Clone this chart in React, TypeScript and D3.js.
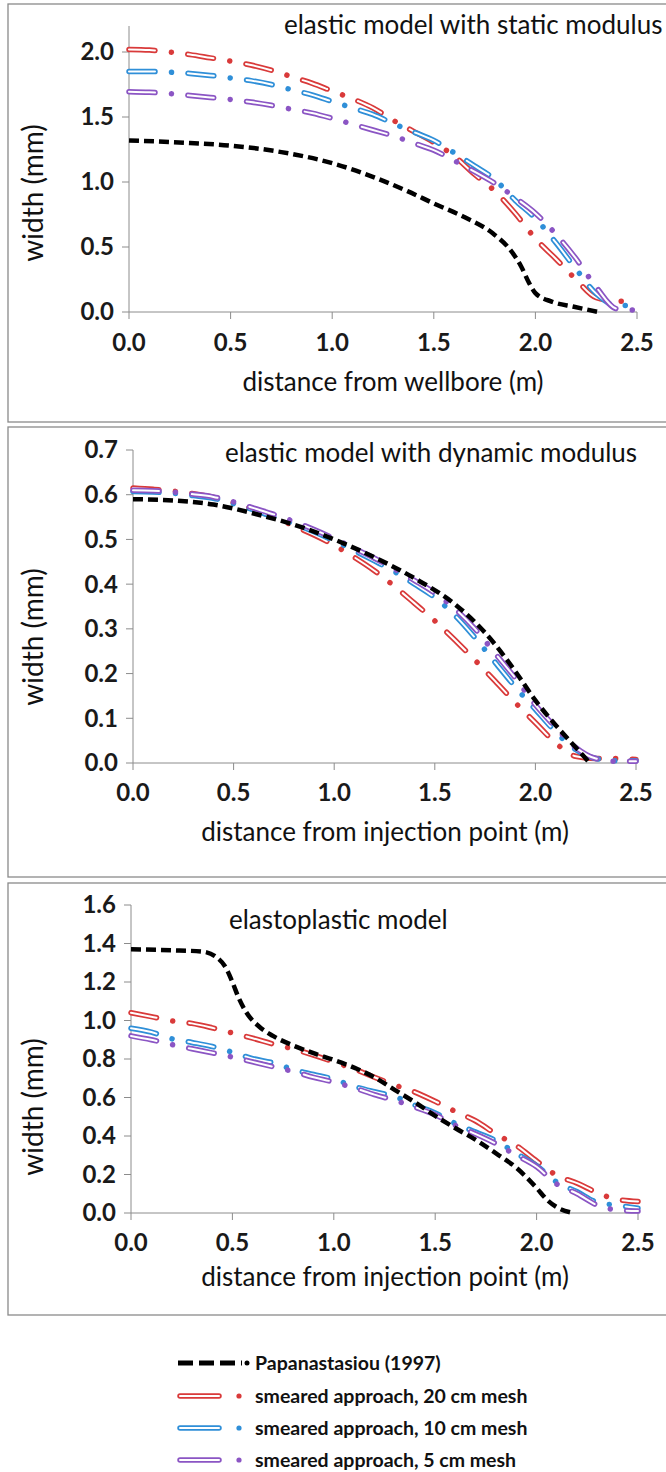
import React from 'react';
import * as d3 from 'd3';

// ---------- data ----------
const seriesNames = [
  'Papanastasiou (1997)',
  'smeared approach, 20 cm mesh',
  'smeared approach, 10 cm mesh',
  'smeared approach, 5 cm mesh',
];
const seriesColors = ['#000000', '#d93a3a', '#2f8fd8', '#8b55c4'];

const panelTitles = [
  'elastic model with static modulus',
  'elastic model with dynamic modulus',
  'elastoplastic model',
];
const xTitles = [
  'distance from wellbore (m)',
  'distance from injection point (m)',
  'distance from injection point (m)',
];
const yTitle = 'width (mm)';

const xTicks = [0, 0.5, 1.0, 1.5, 2.0, 2.5];
const yTicks1 = [0, 0.5, 1.0, 1.5, 2.0];
const yTicks2 = [0, 0.1, 0.2, 0.3, 0.4, 0.5, 0.6, 0.7];
const yTicks3 = [0, 0.2, 0.4, 0.6, 0.8, 1.0, 1.2, 1.4, 1.6];

// mesh positions (m) for the smeared-approach series
const xMesh = [0, 0.1, 0.2, 0.3, 0.4, 0.5, 0.6, 0.7, 0.8, 0.9, 1.0, 1.1, 1.2,
  1.3, 1.4, 1.5, 1.6, 1.7, 1.8, 1.9, 2.0, 2.1, 2.2, 2.3, 2.4, 2.5];

// panel 1 : elastic, static modulus
const papaX1 = [0, 0.3, 0.5, 0.75, 1.0, 1.2, 1.37, 1.5, 1.65, 1.79, 1.87, 1.93, 1.97, 2.0, 2.08, 2.19, 2.31];
const papaY1 = [1.32, 1.30, 1.28, 1.23, 1.145, 1.04, 0.93, 0.835, 0.73, 0.605, 0.49, 0.35, 0.22, 0.145, 0.08, 0.04, 0.0];
const mesh20_1 = [2.02, 2.015, 2.0, 1.98, 1.955, 1.93, 1.9, 1.86, 1.81, 1.76, 1.7, 1.64, 1.57, 1.475, 1.39, 1.305, 1.2, 1.06, 0.93, 0.76, 0.565, 0.41, 0.25, 0.11, 0.085, 0.08];
const mesh10_1 = [1.85, 1.85, 1.845, 1.835, 1.82, 1.8, 1.78, 1.75, 1.71, 1.67, 1.62, 1.57, 1.52, 1.45, 1.385, 1.32, 1.225, 1.125, 1.02, 0.86, 0.72, 0.535, 0.33, 0.14, 0.05, 0.05];
const mesh5_1 = [1.695, 1.69, 1.68, 1.665, 1.65, 1.635, 1.615, 1.59, 1.56, 1.53, 1.49, 1.445, 1.4, 1.355, 1.3, 1.245, 1.165, 1.08, 0.99, 0.88, 0.76, 0.6, 0.41, 0.19, 0.025, 0.015];

// panel 2 : elastic, dynamic modulus
const papaX2 = [0, 0.2, 0.4, 0.6, 0.8, 1.0, 1.2, 1.4, 1.6, 1.7, 1.8, 1.9, 2.0, 2.1, 2.2, 2.27];
const papaY2 = [0.59, 0.587, 0.578, 0.558, 0.533, 0.5, 0.46, 0.413, 0.355, 0.315, 0.265, 0.205, 0.14, 0.085, 0.035, 0.0];
const mesh20_2 = [0.615, 0.612, 0.608, 0.602, 0.594, 0.582, 0.567, 0.55, 0.53, 0.51, 0.487, 0.46, 0.43, 0.395, 0.357, 0.318, 0.275, 0.23, 0.183, 0.135, 0.09, 0.045, 0.015, 0.01, 0.01, 0.008];
const mesh10_2 = [0.607, 0.606, 0.603, 0.598, 0.592, 0.58, 0.566, 0.55, 0.535, 0.517, 0.497, 0.475, 0.452, 0.428, 0.4, 0.37, 0.33, 0.28, 0.225, 0.17, 0.12, 0.07, 0.03, 0.01, 0.005, 0.005];
const mesh5_2 = [0.61, 0.609, 0.606, 0.601, 0.595, 0.584, 0.57, 0.556, 0.54, 0.522, 0.502, 0.48, 0.458, 0.434, 0.408, 0.38, 0.345, 0.3, 0.245, 0.19, 0.13, 0.08, 0.035, 0.01, 0.004, 0.004];

// panel 3 : elastoplastic
const papaX3 = [0, 0.2, 0.35, 0.42, 0.47, 0.5, 0.53, 0.57, 0.63, 0.7, 0.8, 0.9, 1.0, 1.1, 1.2, 1.3, 1.4, 1.5, 1.6, 1.7, 1.8, 1.9, 2.0, 2.05, 2.1, 2.18];
const papaY3 = [1.37, 1.365, 1.358, 1.33, 1.27, 1.2, 1.12, 1.04, 0.97, 0.92, 0.87, 0.83, 0.795, 0.755, 0.705, 0.64, 0.575, 0.505, 0.44, 0.38, 0.31, 0.235, 0.13, 0.07, 0.03, 0.0];
const mesh20_3 = [1.04, 1.02, 0.998, 0.985, 0.962, 0.935, 0.908, 0.878, 0.852, 0.82, 0.785, 0.748, 0.705, 0.665, 0.628, 0.58, 0.527, 0.478, 0.41, 0.35, 0.27, 0.195, 0.155, 0.105, 0.07, 0.06];
const mesh10_3 = [0.96, 0.94, 0.905, 0.886, 0.865, 0.835, 0.802, 0.78, 0.745, 0.72, 0.695, 0.658, 0.63, 0.605, 0.56, 0.52, 0.465, 0.42, 0.375, 0.31, 0.245, 0.16, 0.11, 0.055, 0.04, 0.025];
const mesh5_3 = [0.92, 0.9, 0.875, 0.853, 0.832, 0.81, 0.785, 0.76, 0.735, 0.705, 0.68, 0.65, 0.615, 0.585, 0.55, 0.51, 0.455, 0.41, 0.36, 0.3, 0.24, 0.15, 0.1, 0.04, 0.015, 0.01];

// ---------- layout ----------
const FONT = 'Lato, "Open Sans", sans-serif';
const TICK_FS = 24;
const TITLE_FS = 26;
const AXT_FS = 26;
const YT_FS = 28;
const LEG_FS = 19.5;

type PanelCfg = {
  frameTop: number; frameBottom: number;
  x0: number; x1: number; yBottom: number; yTop: number;
  yMax: number; yTicks: number[];
  titleX: number; titleY: number;
  tickLabelDy: number; xTitleX: number; xTitleY: number; yTitleY: number;
  papaX: number[]; papaY: number[]; mesh: number[][];
  title: string; xTitle: string;
};

const panels: PanelCfg[] = [
  {
    frameTop: 4, frameBottom: 422, x0: 129, x1: 637, yBottom: 312, yTop: 26,
    yMax: 2.2, yTicks: yTicks1, titleX: 284, titleY: 34, tickLabelDy: 31,
    xTitleX: 393, xTitleY: 391, yTitleY: 193, papaX: papaX1, papaY: papaY1,
    mesh: [mesh20_1, mesh10_1, mesh5_1], title: panelTitles[0], xTitle: xTitles[0],
  },
  {
    frameTop: 427, frameBottom: 877, x0: 133, x1: 636, yBottom: 763, yTop: 450,
    yMax: 0.7, yTicks: yTicks2, titleX: 225, titleY: 462, tickLabelDy: 30,
    xTitleX: 385, xTitleY: 841, yTitleY: 637, papaX: papaX2, papaY: papaY2,
    mesh: [mesh20_2, mesh10_2, mesh5_2], title: panelTitles[1], xTitle: xTitles[1],
  },
  {
    frameTop: 883, frameBottom: 1315, x0: 131, x1: 638, yBottom: 1213, yTop: 905,
    yMax: 1.6, yTicks: yTicks3, titleX: 229, titleY: 929, tickLabelDy: 30,
    xTitleX: 385, xTitleY: 1286, yTitleY: 1107, papaX: papaX3, papaY: papaY3,
    mesh: [mesh20_3, mesh10_3, mesh5_3], title: panelTitles[2], xTitle: xTitles[2],
  },
];

const OUTER_W = 5.5;
const INNER_W = 2;
const MESH_DASH = '26 16.5 0.01 16.5';
const MESH_INNER = '26 33.01';
const PAPA_DASH = '10 5';

function Panel({ cfg }: { cfg: PanelCfg }) {
  const x = d3.scaleLinear().domain([0, 2.5]).range([cfg.x0, cfg.x1]);
  const y = d3.scaleLinear().domain([0, cfg.yMax]).range([cfg.yBottom, cfg.yTop]);
  const line = d3.line<[number, number]>()
    .x(d => x(d[0]))
    .y(d => y(d[1]))
    .curve(d3.curveMonotoneX);
  const papaPts = cfg.papaX.map((v, i) => [v, cfg.papaY[i]] as [number, number]);
  const fmt = d3.format('.1f');
  const axisColor = '#8c8c8c';
  return (
    <g>
      <rect x={8} y={cfg.frameTop} width={680} height={cfg.frameBottom - cfg.frameTop}
        fill="#fff" stroke="#8a8a8a" strokeWidth={1.3} />
      {/* axes */}
      <line x1={x(0)} x2={x(0)} y1={y(0)} y2={y(cfg.yMax)} stroke={axisColor} strokeWidth={1} />
      <line x1={x(0)} x2={x(2.5)} y1={y(0)} y2={y(0)} stroke={axisColor} strokeWidth={1} />
      {cfg.yTicks.map(t => (
        <g key={'y' + t}>
          <line x1={x(0) - 7} x2={x(0)} y1={y(t)} y2={y(t)} stroke={axisColor} />
          <text x={x(0) - 15} y={y(t)} dy="0.35em" textAnchor="end" fontFamily={FONT}
            fontWeight={700} fontSize={TICK_FS} fill="#1a1a1a">{fmt(t)}</text>
        </g>
      ))}
      {xTicks.map(t => (
        <g key={'x' + t}>
          <line x1={x(t)} x2={x(t)} y1={y(0)} y2={y(0) + 7} stroke={axisColor} />
          <text x={x(t)} y={y(0) + cfg.tickLabelDy} dy="0.35em" textAnchor="middle" fontFamily={FONT}
            fontWeight={700} fontSize={TICK_FS} fill="#1a1a1a">{fmt(t)}</text>
        </g>
      ))}
      {/* titles */}
      <text x={cfg.titleX} y={cfg.titleY} fontFamily={FONT} fontSize={TITLE_FS} fill="#111">{cfg.title}</text>
      <text x={cfg.xTitleX} y={cfg.xTitleY} textAnchor="middle" fontFamily={FONT} fontSize={AXT_FS} fill="#111">{cfg.xTitle}</text>
      <text transform={`translate(33,${cfg.yTitleY}) rotate(-90)`} textAnchor="middle" dy="0.35em"
        fontFamily={FONT} fontSize={YT_FS} fill="#111">{yTitle}</text>
      {/* mesh series */}
      {cfg.mesh.map((vals, si) => {
        const pts = xMesh.map((v, i) => [v, vals[i]] as [number, number]);
        const d = line(pts) || '';
        return (
          <g key={'m' + si}>
            <path d={d} fill="none" stroke={seriesColors[si + 1]} strokeWidth={OUTER_W}
              strokeDasharray={MESH_DASH} strokeLinecap="round" />
            <path d={d} fill="none" stroke="#ffffff" strokeWidth={INNER_W}
              strokeDasharray={MESH_INNER} strokeLinecap="round" />
          </g>
        );
      })}
      {/* reference solution */}
      <path d={line(papaPts) || ''} fill="none" stroke={seriesColors[0]} strokeWidth={4.5}
        strokeDasharray={PAPA_DASH} />
    </g>
  );
}

function Legend() {
  const lx = 178;
  const rows = [1363, 1396, 1428, 1460];
  return (
    <g>
      {seriesNames.map((name, i) => {
        const yy = rows[i];
        return (
          <g key={name}>
            {i === 0 ? (
              <g>
                <line x1={lx} x2={lx + 64} y1={yy} y2={yy} stroke="#000" strokeWidth={5}
                  strokeDasharray="15 6" />
                <circle cx={lx + 69} cy={yy} r={2.5} fill="#000" />
              </g>
            ) : (
              <g>
                <line x1={lx + 2} x2={lx + 41} y1={yy} y2={yy} stroke={seriesColors[i]}
                  strokeWidth={OUTER_W} strokeLinecap="round" />
                <line x1={lx + 2} x2={lx + 41} y1={yy} y2={yy} stroke="#fff"
                  strokeWidth={INNER_W} strokeLinecap="round" />
                <circle cx={lx + 61} cy={yy} r={2.6} fill={seriesColors[i]} />
              </g>
            )}
            <text x={lx + 77} y={yy} dy="0.35em" fontFamily={FONT} fontWeight={700}
              fontSize={LEG_FS} fill="#111">{name}</text>
          </g>
        );
      })}
    </g>
  );
}

export default function App() {
  return (
    <svg width={666} height={1472} style={{ position: 'absolute', left: 0, top: 0, background: '#fff' }}>
      <rect x={0} y={0} width={666} height={1472} fill="#fff" />
      {panels.map((p, i) => <Panel key={i} cfg={p} />)}
      <Legend />
    </svg>
  );
}
